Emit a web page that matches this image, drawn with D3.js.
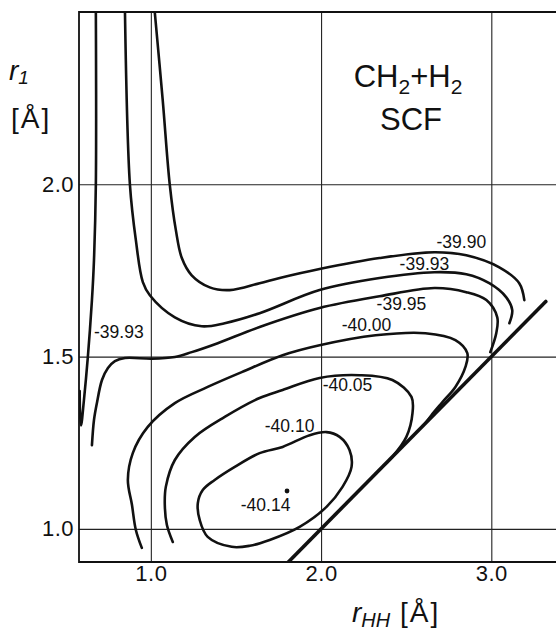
<!DOCTYPE html>
<html><head><meta charset="utf-8">
<script src="https://cdn.jsdelivr.net/npm/d3@7"></script>
<style>
body{margin:0;background:#fff}
text{font-family:"Liberation Sans",Arial,sans-serif;fill:#111}
</style>
</head><body><svg id="c" width="556" height="633"></svg>
<script>
// ---- data (r_HH [Å], r1 [Å]) ----
const xTicks = [1.0, 2.0, 3.0];
const yTicks = [1.0, 1.5, 2.0];
const xDomain = [0.578, 3.38];
const yDomain = [0.904, 2.5];

const contourLeft3993 = [[0.677,2.5],[0.677,2.0],[0.666,1.780],[0.654,1.664],[0.630,1.499],[0.607,1.374],[0.590,1.300],[0.584,1.340],[0.582,1.400]];
const contour3993 = [[0.848,2.5],[0.877,2.0],[0.912,1.838],[0.953,1.716],[0.994,1.678],[1.141,1.614],[1.299,1.588],[1.434,1.597],[1.639,1.626],[1.991,1.693],[2.343,1.728],[2.666,1.745],[2.853,1.739],[2.988,1.713],[3.088,1.672],[3.123,1.635],[3.106,1.597]];
const contour3990 = [[1.023,2.5],[1.070,2.243],[1.111,2.0],[1.147,1.867],[1.182,1.786],[1.240,1.736],[1.346,1.701],[1.463,1.693],[1.639,1.713],[1.757,1.728],[1.991,1.754],[2.343,1.786],[2.666,1.803],[2.853,1.794],[3.047,1.759],[3.164,1.713],[3.194,1.664]];
const contour3995 = [[0.654,1.243],[0.666,1.316],[0.683,1.365],[0.713,1.432],[0.748,1.467],[0.789,1.487],[0.848,1.496],[1.006,1.494],[1.141,1.499],[1.240,1.513],[1.393,1.539],[1.639,1.586],[1.991,1.641],[2.343,1.675],[2.666,1.699],[2.853,1.687],[2.971,1.664],[3.035,1.614],[3.029,1.568],[2.994,1.513]];
const contour4000 = [[0.947,0.945],[0.912,0.997],[0.889,1.070],[0.865,1.142],[0.894,1.220],[0.982,1.296],[1.141,1.365],[1.334,1.412],[1.534,1.455],[1.774,1.504],[1.991,1.533],[2.320,1.562],[2.613,1.568],[2.789,1.548],[2.859,1.510],[2.848,1.470],[2.789,1.412],[2.713,1.368],[2.648,1.330],[2.610,1.305]];
const contour4005 = [[1.129,0.962],[1.094,1.012],[1.082,1.070],[1.088,1.122],[1.141,1.200],[1.258,1.267],[1.434,1.325],[1.639,1.380],[1.774,1.403],[1.991,1.438],[2.226,1.446],[2.419,1.432],[2.531,1.383],[2.537,1.336],[2.501,1.267],[2.419,1.209],[2.361,1.180],[2.320,1.160]];
const contour4010 = [[1.639,1.220],[1.774,1.238],[1.933,1.272],[2.032,1.281],[2.109,1.267],[2.167,1.229],[2.179,1.180],[2.126,1.122],[2.032,1.064],[1.874,1.006],[1.698,0.968],[1.581,0.951],[1.475,0.948],[1.334,0.977],[1.287,1.026],[1.276,1.075],[1.305,1.113],[1.375,1.142],[1.493,1.180]];
const boundaryLine = [[1.80,0.90],[3.32,1.66]];
const minimumPoint = [1.80, 1.11];

const labelTexts = ["-39.90","-39.93","-39.95","-40.00","-40.05","-40.10","-40.14","-39.93"];
const labelX = [2.824, 2.607, 2.472, 2.267, 2.155, 1.815, 1.674, 0.812];
const labelY = [1.814, 1.751, 1.635, 1.574, 1.400, 1.281, 1.052, 1.554];

// ---- drawing ----
const svg = d3.select("#c");
const L = 79, R = 556, T = 12, B = 562;
const x = d3.scaleLinear().domain(xDomain).range([L, R]);
const y = d3.scaleLinear().domain(yDomain).range([B, T]);

svg.append("defs").append("clipPath").attr("id","clip")
  .append("rect").attr("x",L).attr("y",T).attr("width",R-L).attr("height",B-T);

// grid via axes
const gx = svg.append("g").attr("transform",`translate(0,${B})`)
  .call(d3.axisBottom(x).tickValues(xTicks).tickSize(-(B-T)).tickFormat(d3.format(".1f")).tickPadding(12));
gx.select(".domain").remove();
gx.selectAll("line").attr("stroke","#222").attr("stroke-width",1.1);
gx.selectAll("text").attr("font-size",22).attr("dy","0.3em").attr("fill","#111")
  .style("font-family","'Liberation Sans',Arial,sans-serif").attr("letter-spacing","0.5px");

const gy = svg.append("g").attr("transform",`translate(${L},0)`)
  .call(d3.axisLeft(y).tickValues(yTicks).tickSize(-(R-L)).tickFormat(d3.format(".1f")).tickPadding(5));
gy.select(".domain").remove();
gy.selectAll("line").attr("stroke","#222").attr("stroke-width",1.1);
gy.selectAll("text").attr("font-size",22).attr("fill","#111")
  .style("font-family","'Liberation Sans',Arial,sans-serif").attr("letter-spacing","0.5px");

// frame: left, top, bottom
svg.append("path").attr("d",`M${R},${T}H${L}V${B}H${R}`).attr("fill","none").attr("stroke","#111").attr("stroke-width",1.8);

const plot = svg.append("g").attr("clip-path","url(#clip)");
const line = d3.line().x(d=>x(d[0])).y(d=>y(d[1])).curve(d3.curveCatmullRom.alpha(0.5));
const loop = d3.line().x(d=>x(d[0])).y(d=>y(d[1])).curve(d3.curveCatmullRomClosed.alpha(0.5));

[contourLeft3993, contour3993, contour3990, contour3995, contour4000, contour4005].forEach(c=>{
  plot.append("path").attr("d", line(c)).attr("fill","none").attr("stroke","#111")
    .attr("stroke-width",2.6).attr("stroke-linecap","round").attr("stroke-linejoin","round");
});
plot.append("path").attr("d", loop(contour4010)).attr("fill","none").attr("stroke","#111").attr("stroke-width",2.6);
plot.append("path").attr("d", d3.line().x(d=>x(d[0])).y(d=>y(d[1]))(boundaryLine))
  .attr("fill","none").attr("stroke","#111").attr("stroke-width",3.6).attr("stroke-linecap","round");
plot.append("circle").attr("cx",x(minimumPoint[0])).attr("cy",y(minimumPoint[1])).attr("r",2.4).attr("fill","#111");

// contour labels
labelTexts.forEach((t,i)=>{
  svg.append("text").attr("x",x(labelX[i])).attr("y",y(labelY[i]))
    .attr("text-anchor","middle").attr("font-size",17.5).text(t);
});

// titles
svg.append("text").attr("x",408).attr("y",87).attr("text-anchor","middle").attr("font-size",31)
  .html('CH<tspan font-size="21" dy="7">2</tspan><tspan dy="-7">+</tspan>H<tspan font-size="21" dy="7">2</tspan>');
svg.append("text").attr("x",411).attr("y",130).attr("text-anchor","middle").attr("font-size",31).text("SCF");

// y-axis title
svg.append("text").attr("x",9).attr("y",80).attr("font-size",28).attr("font-style","italic")
  .html('r<tspan font-size="19" dy="4">1</tspan>');
svg.append("text").attr("x",11).attr("y",128).attr("font-size",28).attr("letter-spacing","2px").text("[Å]");

// x-axis title
svg.append("text").attr("x",352).attr("y",622).attr("font-size",28)
  .html('<tspan font-style="italic">r</tspan><tspan font-style="italic" font-size="20" dy="5">HH</tspan><tspan dy="-5" letter-spacing="2px"> [Å]</tspan>');
</script>
</body></html>
